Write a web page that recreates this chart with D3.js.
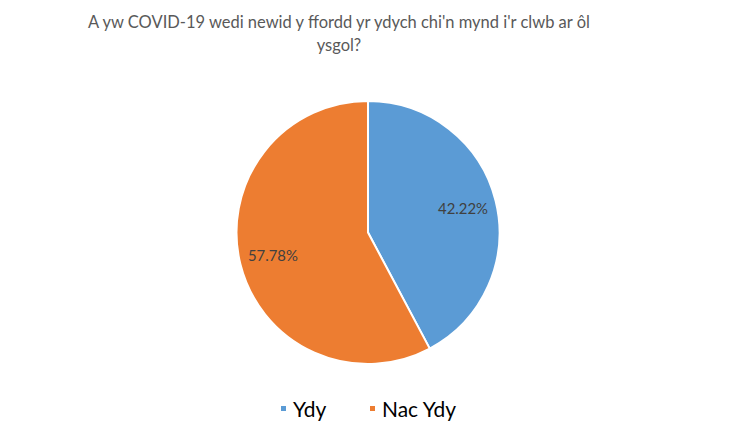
<!DOCTYPE html>
<html>
<head>
<meta charset="utf-8">
<script src="https://cdn.jsdelivr.net/npm/d3@7"></script>
<style>
  html, body { margin: 0; padding: 0; background: #fff; }
  svg { display: block; }
  text { font-family: Lato, "Open Sans", sans-serif; }
</style>
</head>
<body>
<svg id="chart" width="740" height="443"></svg>
<script>
const categories = ["Ydy", "Nac Ydy"];
const values = [42.22, 57.78];
const colors = ["#5B9BD5", "#ED7D31"];
const titleLines = ["A yw COVID-19 wedi newid y ffordd yr ydych chi'n mynd i'r clwb ar ôl", "ysgol?"];

const svg = d3.select("#chart");
const cx = 368, cy = 232.5, R = 131.5;

function fit(sel, target) {
  const node = sel.node();
  const fs = parseFloat(sel.attr("font-size"));
  const w = node.getComputedTextLength();
  if (w > 0) sel.attr("font-size", (fs * target / w).toFixed(2));
}

// Title
const t1 = svg.append("text").attr("x", 339).attr("y", 28).attr("text-anchor", "middle")
  .attr("font-size", 18).attr("fill", "#595959").text(titleLines[0]);
fit(t1, 502);
svg.append("text").attr("x", 339).attr("y", 51).attr("text-anchor", "middle")
  .attr("font-size", t1.attr("font-size")).attr("fill", "#595959").text(titleLines[1]);

// Pie
const pie = d3.pie().sort(null).value(d => d);
const arcs = pie(values);
const arc = d3.arc().innerRadius(0).outerRadius(R);
const g = svg.append("g").attr("transform", `translate(${cx},${cy})`);
g.selectAll("path").data(arcs).join("path")
  .attr("d", arc)
  .attr("fill", (d, i) => colors[i])
  .attr("stroke", "#fff").attr("stroke-width", 2).attr("stroke-linejoin", "round");

const labelArc = d3.arc().innerRadius(R * 0.745).outerRadius(R * 0.745);
const fmt = d3.format(".2f");
g.selectAll("text.lbl").data(arcs).join("text")
  .attr("class", "lbl")
  .attr("x", d => labelArc.centroid(d)[0])
  .attr("y", d => labelArc.centroid(d)[1])
  .attr("dy", "0.35em")
  .attr("text-anchor", "middle")
  .attr("font-size", 15).attr("fill", "#404040")
  .text(d => fmt(d.data) + "%")
  .each(function() { fit(d3.select(this), 50); });

// Legend
const legendX = [281, 370];
const lg = svg.append("g");
categories.forEach((c, i) => {
  lg.append("rect").attr("x", legendX[i]).attr("y", 406).attr("width", 5).attr("height", 5)
    .attr("fill", colors[i]);
  const t = lg.append("text").attr("x", legendX[i] + 12).attr("y", 417)
    .attr("font-size", 21).attr("fill", "#000").text(c);
  if (i === 1) fit(t, 74);
});
const lt = lg.selectAll("text").nodes();
d3.select(lt[0]).attr("font-size", d3.select(lt[1]).attr("font-size"));
</script>
</body>
</html>
